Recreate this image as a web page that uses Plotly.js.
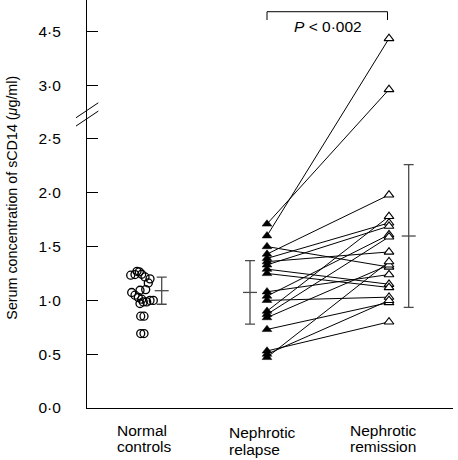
<!DOCTYPE html>
<html>
<head>
<meta charset="utf-8">
<script src="https://cdn.plot.ly/plotly-3.0.1.min.js"></script>
<style>html,body{margin:0;padding:0;background:#fff;}#chart{width:458px;height:460px;}</style>
</head>
<body>
<div id="chart"></div>
<script>
// ---- data (µg/ml) ----
var groups = ['Normal controls', 'Nephrotic relapse', 'Nephrotic remission'];
var normalControls = [1.234, 1.24, 1.265, 1.243, 1.218, 1.162, 1.10, 1.094, 1.073, 1.048, 1.027, 1.011, 0.986, 0.971, 0.986, 1.0, 1.0, 0.853, 0.853, 0.692, 0.692, 1.27, 1.20];
var relapse   = [1.71, 1.60, 1.50, 1.43, 1.39, 1.36, 1.33, 1.29, 1.25, 1.08, 1.04, 1.00, 0.90, 0.87, 0.84, 0.73, 0.53, 0.50, 0.47];
var remission = [2.96, 4.30, 1.31, 1.98, 1.72, 1.45, 1.69, 1.15, 1.12, 1.24, 1.61, 1.03, 1.78, 1.59, 1.33, 0.98, 0.80, 1.00, 1.36];
var groupMean = [1.09, 1.074, 1.598];
var groupSD   = [0.126, 0.295, 0.663];
var tickValues = [0, 0.5, 1.0, 1.5, 2.0, 2.5, 3.0, 4.5];
var tickLabels = ['0·0', '0·5', '1·0', '1·5', '2·0', '2·5', '3·0', '4·5'];
var pText = '<i>P</i> < 0·002';

// ---- layout positions (x axis in plot pixels) ----
var xNormal = 54, xRelapse = 180, xRemission = 302;
var xBars = [74.7, 163, 321.7];
var normalJitter = [-10.3, -6, -1.7, 0.7, 4, 7.3, 4.7, -1, -9.3, -6, -2.7, 0.7, 2.3, -1, 5.7, 9, 12.3, -0.3, 3, -0.3, 3, -4, 9];
var labelX = [28, 139.7, 261.3];

// broken axis: linear up to 3.0, compressed 3x above
function disp(v) { return v <= 3 ? v : 3 + (v - 3) / 3; }

var font = 'Liberation Sans, Arial, Helvetica, sans-serif';
var traces = [];

// paired lines
var lx = [], ly = [];
for (var i = 0; i < relapse.length; i++) {
  lx.push(xRelapse, xRemission, null);
  ly.push(disp(relapse[i]), disp(remission[i]), null);
}
traces.push({type: 'scatter', mode: 'lines', x: lx, y: ly, line: {color: '#000', width: 1}, hoverinfo: 'skip', showlegend: false});

// normal controls
traces.push({type: 'scatter', mode: 'markers',
  x: normalControls.map(function (v, i) { return xNormal + normalJitter[i]; }),
  y: normalControls.map(disp),
  marker: {symbol: 'circle-open', size: 8, color: '#000', line: {width: 1.3, color: '#000'}},
  showlegend: false});

// relapse
traces.push({type: 'scatter', mode: 'markers',
  x: relapse.map(function () { return xRelapse; }), y: relapse.map(disp),
  marker: {symbol: 'triangle-up', size: 8.5, color: '#000', line: {width: 0.5, color: '#000'}},
  showlegend: false});

// remission
traces.push({type: 'scatter', mode: 'markers',
  x: remission.map(function () { return xRemission; }), y: remission.map(disp),
  marker: {symbol: 'triangle-up', size: 8.5, color: '#fff', line: {width: 1.1, color: '#000'}},
  showlegend: false});

// mean ± SD bars
traces.push({type: 'scatter', mode: 'markers',
  x: xBars, y: groupMean.map(disp),
  error_y: {type: 'data', array: groupSD, visible: true, width: 5, thickness: 1.3, color: '#4a4a4a'},
  marker: {symbol: 'line-ew', size: 10, line: {width: 1.3, color: '#4a4a4a'}},
  showlegend: false});

var annotations = [];
// y-axis title
annotations.push({xref: 'paper', yref: 'paper', x: (12 - 87) / 366, y: 0.5156, xanchor: 'center', yanchor: 'middle',
  textangle: -90, showarrow: false,
  text: 'Serum concentration of sCD14 (<i>μ</i>g/ml)', font: {family: font, size: 14.3, color: '#000'}});
// category labels (two lines each)
var firstLines = ['Normal', 'Nephrotic', 'Nephrotic'];
var secondLines = ['controls', 'relapse', 'remission'];
var lineY = [[-22, -38.5], [-24.5, -41.5], [-22, -38.5]];
for (var g = 0; g < groups.length; g++) {
  annotations.push({xref: 'x', yref: 'paper', x: labelX[g], y: 0, yshift: lineY[g][0], xanchor: 'left', yanchor: 'middle',
    showarrow: false, text: firstLines[g], font: {family: font, size: 15.5, color: '#000'}});
  annotations.push({xref: 'x', yref: 'paper', x: labelX[g], y: 0, yshift: lineY[g][1], xanchor: 'left', yanchor: 'middle',
    showarrow: false, text: secondLines[g], font: {family: font, size: 15.5, color: '#000'}});
}
// P value
annotations.push({xref: 'x', yref: 'y', x: (xRelapse + xRemission) / 2, y: (407.7 - 26) / 107.54, xanchor: 'center', yanchor: 'middle',
  showarrow: false, text: pText, font: {family: font, size: 15.5, color: '#000'}});

var shapes = [
  // bracket
  {type: 'path', xref: 'x', yref: 'y',
   path: 'M ' + xRelapse + ',' + ((407.7 - 20) / 107.54) + ' L ' + xRelapse + ',' + ((407.7 - 11.7) / 107.54) +
         ' L ' + (xRemission - 1.5) + ',' + ((407.7 - 11.7) / 107.54) + ' L ' + (xRemission - 1.5) + ',' + ((407.7 - 20) / 107.54),
   line: {color: '#000', width: 1}},
  // axis break marks
  {type: 'line', xref: 'paper', yref: 'y', x0: -11 / 366, x1: 11.3 / 366, y0: 2.697, y1: 2.836, line: {color: '#000', width: 1}},
  {type: 'line', xref: 'paper', yref: 'y', x0: -11 / 366, x1: 11.3 / 366, y0: 2.620, y1: 2.759, line: {color: '#000', width: 1}}
];

var layout = {
  width: 458, height: 460,
  margin: {l: 87, r: 5, t: 0, b: 52},
  paper_bgcolor: '#fff', plot_bgcolor: '#fff',
  font: {family: font, size: 15.5, color: '#000'},
  showlegend: false,
  xaxis: {range: [0, 366], showline: true, linecolor: '#000', linewidth: 1, showgrid: false, zeroline: false,
          showticklabels: false, ticks: '', fixedrange: true},
  yaxis: {range: [0, 407.7 / 107.54], showline: true, linecolor: '#000', linewidth: 1, showgrid: false, zeroline: false,
          tickmode: 'array', tickvals: tickValues.map(disp), ticktext: tickLabels,
          ticks: 'inside', ticklen: 11, tickwidth: 1, tickcolor: '#000', ticklabelstandoff: 22,
          tickfont: {family: font, size: 15.5, color: '#000'}, fixedrange: true},
  annotations: annotations,
  shapes: shapes
};

Plotly.newPlot('chart', traces, layout, {displayModeBar: false, staticPlot: true});
</script>
</body>
</html>
